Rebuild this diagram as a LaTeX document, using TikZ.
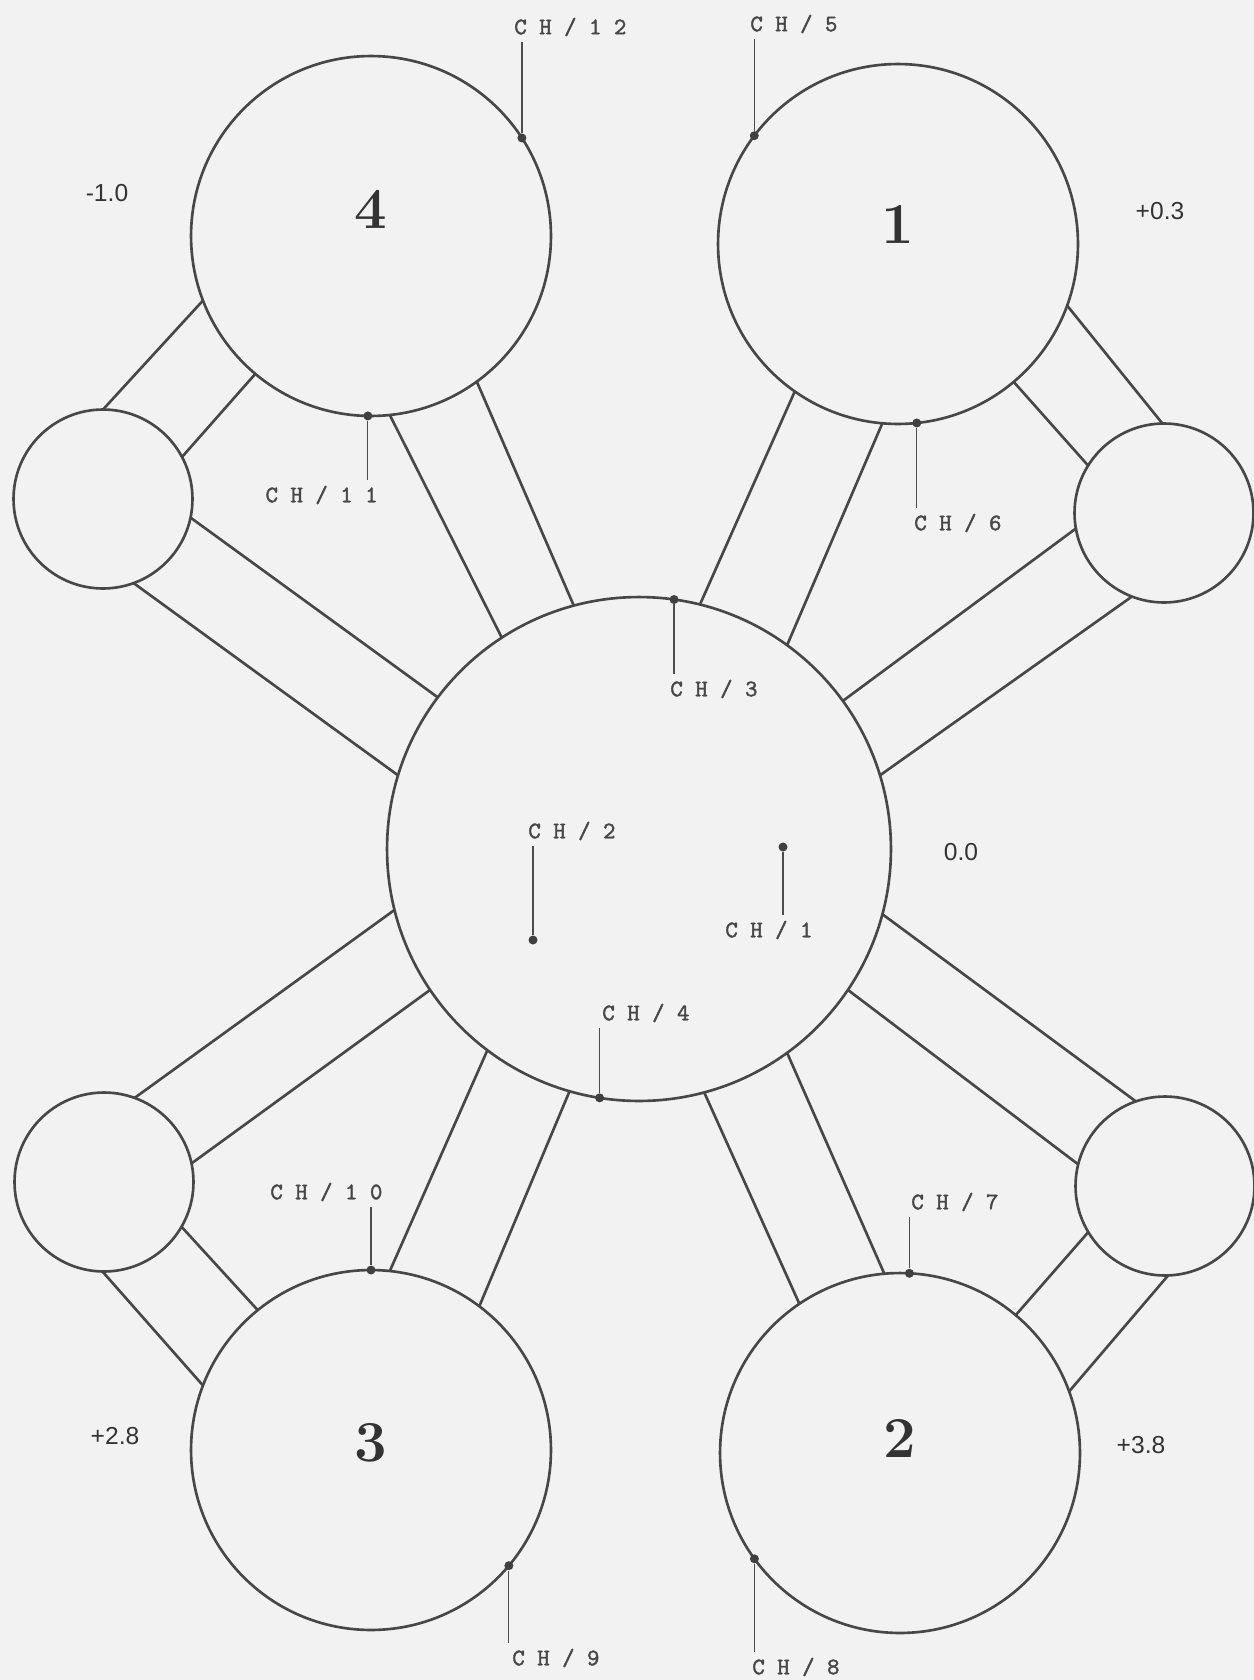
\documentclass[tikz,border=0pt]{standalone}
\usepackage{fontspec}
\newfontfamily\valuefont{Liberation Sans}
\newfontfamily\chanfont{lmmono10-regular}[Extension=.otf, FakeBold=1.6]
\usetikzlibrary{calc}

\begin{document}
\begin{tikzpicture}[
    x=0.02cm, y=-0.02cm,
    vessel/.style={
        circle, draw=black!72, line width=1.5pt,
        inner sep=0pt, outer sep=0pt
    },
    bigtank/.style={vessel, minimum size=7.2cm},
    smalltank/.style={vessel, minimum size=3.58cm},
    centertank/.style={vessel, minimum size=10.08cm},
    pipe/.style={draw=black!72, line width=1.5pt},
    probe/.style={circle, fill=black!75, inner sep=0pt, minimum size=0.18cm},
    lead/.style={draw=black!70, line width=0.7pt, shorten >=3pt},
    chan/.style={font=\fontsize{13.5}{14}\chanfont, text=black!72, inner sep=0pt},
    val/.style={font=\fontsize{14}{16}\valuefont, text=black!80},
    tanknum/.style={font=\fontsize{33}{36}\bfseries, text=black!80},
]

\fill[black!5] (0,0) rectangle (1254,1680);
\useasboundingbox (0,0) rectangle (1254,1680);

% Tanks
\node[centertank] (core) at (639,849) {};
\node[bigtank, label={[tanknum, yshift=15pt]center:4}] (tank4) at (371,236) {};
\node[bigtank, label={[tanknum, yshift=11pt]center:1}] (tank1) at (898,244) {};
\node[bigtank, label={[tanknum, yshift=4pt]center:3}] (tank3) at (371,1450) {};
\node[bigtank, label={[tanknum, yshift=8pt]center:2}] (tank2) at (900,1453) {};

\node[smalltank] (aux4) at (103,499) {};
\node[smalltank] (aux1) at (1164,513) {};
\node[smalltank] (aux3) at (104,1182) {};
\node[smalltank] (aux2) at (1165,1186) {};

% Pipes to the centre
\draw[pipe] (core.123.6) -- (tank4.-84.9);
\draw[pipe] (core.105.4) -- (tank4.-54.5);
\draw[pipe] (core.76.0) -- (tank1.-125.5);
\draw[pipe] (core.54.1) -- (tank1.-95.4);
\draw[pipe] (core.-127.5) -- (tank3.84.5);
\draw[pipe] (core.-106.3) -- (tank3.53.8);
\draw[pipe] (core.-75.4) -- (tank2.124.8);
\draw[pipe] (core.-54.1) -- (tank2.95.3);

\draw[pipe] (core.143.9) -- (aux4.-12.0);
\draw[pipe] (core.163.1) -- (aux4.-70.8);
\draw[pipe] (core.36.0) -- (aux1.190.8);
\draw[pipe] (core.17.0) -- (aux1.-111.3);
\draw[pipe] (core.194.7) -- (aux3.70.8);
\draw[pipe] (core.-146.0) -- (aux3.12.0);
\draw[pipe] (core.-15.6) -- (aux2.109.2);
\draw[pipe] (core.-34.5) -- (aux2.166.9);

% Pipes between the outer tanks
\draw[pipe] (aux4.90.6) -- (tank4.-159.9);
\draw[pipe] (aux4.28.8) -- (tank4.-130.2);
\draw[pipe] (aux1.91.3) -- (tank1.-20.7);
\draw[pipe] (aux1.148.7) -- (tank1.-50.7);
\draw[pipe] (aux3.-30.5) -- (tank3.129.6);
\draw[pipe] (aux3.-91.3) -- (tank3.159.7);
\draw[pipe] (aux2.-149.6) -- (tank2.50.8);
\draw[pipe] (aux2.-88.7) -- (tank2.20.6);

% Channels
\node[probe] (p1) at (783,847) {};
\node[probe] (p2) at (533,940) {};
\node[probe] (p3) at (core.82.6) {};
\node[probe] (p4) at (core.-99.1) {};
\node[probe] (p5) at (tank1.143.6) {};
\node[probe] (p6) at (tank1.-84.4) {};
\node[probe] (p7) at (tank2.87.2) {};
\node[probe] (p8) at (tank2.-144.4) {};
\node[probe] (p9) at (tank3.-40.1) {};
\node[probe] (p10) at (tank3.90.6) {};
\node[probe] (p11) at (tank4.-91.6) {};
\node[probe] (p12) at (tank4.33.6) {};

\node[chan, anchor=west] (ch1) at (725,930) {C H / 1};
\node[chan, anchor=west] (ch2) at (528,831) {C H / 2};
\node[chan, anchor=west] (ch3) at (670,689) {C H / 3};
\node[chan, anchor=west] (ch4) at (602,1013) {C H / 4};
\node[chan, anchor=west] (ch5) at (750,24) {C H / 5};
\node[chan, anchor=west] (ch6) at (914,523) {C H / 6};
\node[chan, anchor=west] (ch7) at (911,1202) {C H / 7};
\node[chan, anchor=west] (ch8) at (752,1667) {C H / 8};
\node[chan, anchor=west] (ch9) at (512,1658) {C H / 9};
\node[chan, anchor=west] (ch10) at (270,1192) {C H / 1 0};
\node[chan, anchor=east] (ch11) at (378,495) {C H / 1 1};
\node[chan, anchor=west] (ch12) at (514,27) {C H / 1 2};

\draw[lead] (p1) -- (p1 |- ch1.north);
\draw[lead] (p2) -- (p2 |- ch2.south);
\draw[lead] (p3) -- (p3 |- ch3.north);
\draw[lead] (p4) -- (p4 |- ch4.south);
\draw[lead] (p5) -- (p5 |- ch5.south);
\draw[lead] (p6) -- (p6 |- ch6.north);
\draw[lead] (p7) -- (p7 |- ch7.south);
\draw[lead] (p8) -- (p8 |- ch8.north);
\draw[lead] (p9) -- (p9 |- ch9.north);
\draw[lead] (p10) -- (p10 |- ch10.south);
\draw[lead] (p11) -- (p11 |- ch11.north);
\draw[lead] (p12) -- (p12 |- ch12.south);

% Values
\node[val] (v4) at (107,193) {-1.0};
\node[val] (v1) at (1160,211) {+0.3};
\node[val] (v0) at (961,852) {0.0};
\node[val] (v3) at (115,1436) {+2.8};
\node[val] (v2) at (1141,1445) {+3.8};

\end{tikzpicture}
\end{document}
